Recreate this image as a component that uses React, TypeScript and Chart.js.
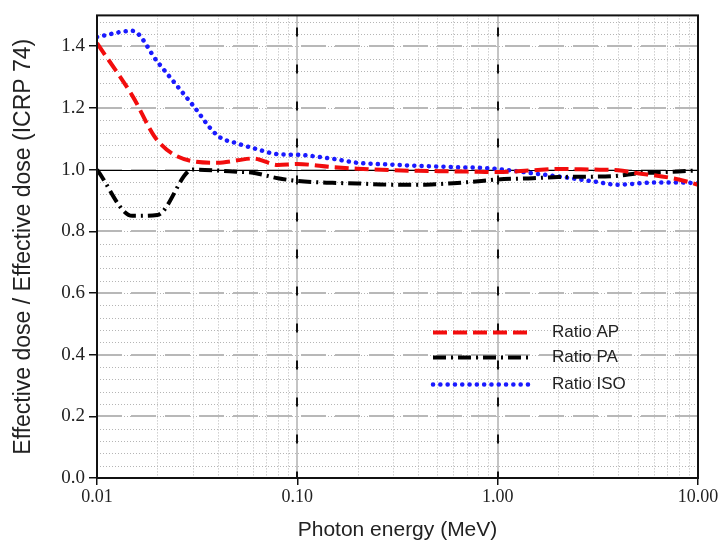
import React, { useEffect, useRef } from "react";
import { Chart, registerables } from "chart.js";

Chart.register(...registerables);

const ENERGY = [0.01, 0.015, 0.02, 0.03, 0.04, 0.05, 0.06, 0.08, 0.1, 0.15, 0.2, 0.3, 0.4, 0.5, 0.6, 0.8, 1, 1.5, 2, 3, 4, 5, 6, 8, 10];
const RATIO_AP = [1.41, 1.24, 1.095, 1.027, 1.022, 1.03, 1.036, 1.015, 1.018, 1.008, 1.003, 0.998, 0.996, 0.995, 0.994, 0.993, 0.992, 0.998, 1.002, 1.0, 0.998, 0.988, 0.982, 0.968, 0.951];
const RATIO_PA = [1.0, 0.85, 0.853, 1.0, 0.997, 0.993, 0.99, 0.972, 0.963, 0.957, 0.955, 0.951, 0.951, 0.953, 0.956, 0.962, 0.968, 0.972, 0.976, 0.977, 0.98, 0.988, 0.99, 0.994, 0.997];
const RATIO_ISO = [1.43, 1.45, 1.35, 1.21, 1.11, 1.085, 1.07, 1.05, 1.048, 1.035, 1.022, 1.016, 1.012, 1.01, 1.008, 1.006, 1.002, 0.988, 0.978, 0.962, 0.951, 0.955, 0.958, 0.958, 0.956];

const SERIES_LABELS = ["Ratio AP", "Ratio PA", "Ratio ISO"];
const X_TICKS = [0.01, 0.1, 1, 10];
const Y_TICKS = [0, 0.2, 0.4, 0.6, 0.8, 1.0, 1.2, 1.4];
const Y_MINOR_STEP = 0.04;
const Y_MIN = 0;
const Y_MAX = 1.5;
const REF_LINE = 1.0;

const STYLES = [
  { color: "#f20d0d", width: 4, dash: [14, 6], cap: "butt" as CanvasLineCap },
  { color: "#000000", width: 4, dash: [13, 5, 2, 5], cap: "butt" as CanvasLineCap },
  { color: "#1a1aff", width: 4.5, dash: [0.1, 7.2], cap: "round" as CanvasLineCap },
];

const gridPlugin = {
  id: "customGrid",
  beforeDatasetsDraw(chart: any) {
    const { ctx, chartArea: a, scales } = chart;
    const xs = scales.x;
    const ys = scales.y;
    ctx.save();
    ctx.strokeStyle = "#b5b5b5";
    ctx.lineWidth = 1;
    ctx.setLineDash([1, 2]);
    for (let v = Y_MIN; v <= Y_MAX + 1e-9; v += Y_MINOR_STEP) {
      const y = Math.round(ys.getPixelForValue(v)) + 0.5;
      ctx.beginPath();
      ctx.moveTo(a.left, y);
      ctx.lineTo(a.right, y);
      ctx.stroke();
    }
    for (let d = 0; d < X_TICKS.length - 1; d++) {
      for (let m = 2; m <= 9; m++) {
        const x = Math.round(xs.getPixelForValue(X_TICKS[d] * m)) + 0.5;
        ctx.beginPath();
        ctx.moveTo(x, a.top);
        ctx.lineTo(x, a.bottom);
        ctx.stroke();
      }
    }
    ctx.strokeStyle = "#b8b8b8";
    ctx.lineWidth = 2;
    ctx.setLineDash([25, 9]);
    for (const v of Y_TICKS) {
      const y = Math.round(ys.getPixelForValue(v));
      ctx.beginPath();
      ctx.moveTo(a.left, y);
      ctx.lineTo(a.right, y);
      ctx.stroke();
    }
    for (const t of X_TICKS.slice(1)) {
      const x = Math.round(xs.getPixelForValue(t));
      ctx.setLineDash([]);
      ctx.strokeStyle = "#b0b0b0";
      ctx.lineWidth = 1.5;
      ctx.beginPath();
      ctx.moveTo(x, a.top);
      ctx.lineTo(x, a.bottom);
      ctx.stroke();
      ctx.setLineDash([9, 28]);
      ctx.strokeStyle = "#111";
      ctx.lineWidth = 2;
      ctx.beginPath();
      ctx.moveTo(x, a.top + 12);
      ctx.lineTo(x, a.bottom);
      ctx.stroke();
    }
    ctx.setLineDash([]);
    ctx.strokeStyle = "#000";
    ctx.lineWidth = 1.2;
    const yr = Math.round(ys.getPixelForValue(REF_LINE)) + 0.5;
    ctx.beginPath();
    ctx.moveTo(a.left, yr);
    ctx.lineTo(a.right, yr);
    ctx.stroke();
    ctx.restore();
  },
  afterDraw(chart: any) {
    const { ctx, chartArea: a } = chart;
    ctx.save();
    ctx.strokeStyle = "#111";
    ctx.lineWidth = 2;
    ctx.setLineDash([]);
    ctx.strokeRect(a.left, a.top, a.right - a.left, a.bottom - a.top);
    const lx0 = a.left + 336;
    const lx1 = a.left + 431;
    const tx = a.left + 455;
    const rows = [a.top + 317, a.top + 342, a.top + 369];
    ctx.font = '17px "Liberation Sans", Arial, sans-serif';
    ctx.textBaseline = "middle";
    ctx.fillStyle = "#222";
    STYLES.forEach((s, i) => {
      ctx.strokeStyle = s.color;
      ctx.lineWidth = s.width;
      ctx.setLineDash(s.dash);
      ctx.lineCap = s.cap;
      ctx.beginPath();
      ctx.moveTo(lx0, rows[i]);
      ctx.lineTo(lx1, rows[i]);
      ctx.stroke();
      ctx.fillText(SERIES_LABELS[i], tx, rows[i]);
    });
    ctx.restore();
  },
};

export default function App() {
  const ref = useRef<HTMLCanvasElement>(null);
  useEffect(() => {
    document.body.style.margin = "0";
    const seriesValues = [RATIO_AP, RATIO_PA, RATIO_ISO];
    const chart = new Chart(ref.current as HTMLCanvasElement, {
      type: "line",
      data: {
        datasets: seriesValues.map((vals, i) => ({
          label: SERIES_LABELS[i],
          data: ENERGY.map((e, j) => ({ x: e, y: vals[j] })),
          borderColor: STYLES[i].color,
          backgroundColor: STYLES[i].color,
          borderWidth: STYLES[i].width,
          borderDash: STYLES[i].dash,
          borderCapStyle: STYLES[i].cap,
          pointRadius: 0,
          fill: false,
          cubicInterpolationMode: "monotone" as const,
        })),
      },
      options: {
        animation: false,
        responsive: false,
        layout: { padding: { top: 14, right: 26, left: 0, bottom: 0 } },
        plugins: { legend: { display: false }, tooltip: { enabled: false } },
        scales: {
          x: {
            type: "logarithmic",
            min: 0.01,
            max: 10,
            afterBuildTicks: (s: any) => {
              s.ticks = X_TICKS.map((v) => ({ value: v, major: true }));
            },
            afterFit: (s: any) => {
              s.height = 67;
            },
            grid: { drawOnChartArea: false, drawTicks: true, tickLength: 7, color: "#111", lineWidth: 1.5 },
            border: { display: false },
            ticks: {
              autoSkip: false,
              maxRotation: 0,
              color: "#222",
              padding: 1,
              font: { family: '"Liberation Serif", "Times New Roman", serif', size: 18 },
              callback: (v: any) => (Number(v) === 0.01 ? "0.01" : Number(v).toFixed(2)),
            },
            title: {
              display: true,
              text: "Photon energy (MeV)",
              color: "#222",
              font: { family: '"Liberation Sans", Arial, sans-serif', size: 21 },
              padding: { top: 0, bottom: 2 },
            },
          },
          y: {
            type: "linear",
            min: Y_MIN,
            max: Y_MAX,
            afterBuildTicks: (s: any) => {
              s.ticks = Y_TICKS.map((v) => ({ value: v }));
            },
            afterFit: (s: any) => {
              s.width = 97;
            },
            grid: { drawOnChartArea: false, drawTicks: true, tickLength: 8, color: "#111", lineWidth: 1.5 },
            border: { display: false },
            ticks: {
              color: "#222",
              padding: 4,
              font: { family: '"Liberation Serif", "Times New Roman", serif', size: 19 },
              callback: (v: any) => Number(v).toFixed(1),
            },
            title: {
              display: true,
              text: "Effective dose / Effective dose (ICRP 74)",
              color: "#222",
              font: { family: '"Liberation Sans", Arial, sans-serif', size: 23 },
              padding: { top: 10, bottom: 0 },
            },
          },
        },
      },
      plugins: [gridPlugin],
    } as any);
    return () => chart.destroy();
  }, []);
  return (
    <div style={{ position: "absolute", left: 0, top: 0, width: 724, height: 545, background: "#fff" }}>
      <canvas ref={ref} width={724} height={545} style={{ width: 724, height: 545, display: "block" }} />
    </div>
  );
}
